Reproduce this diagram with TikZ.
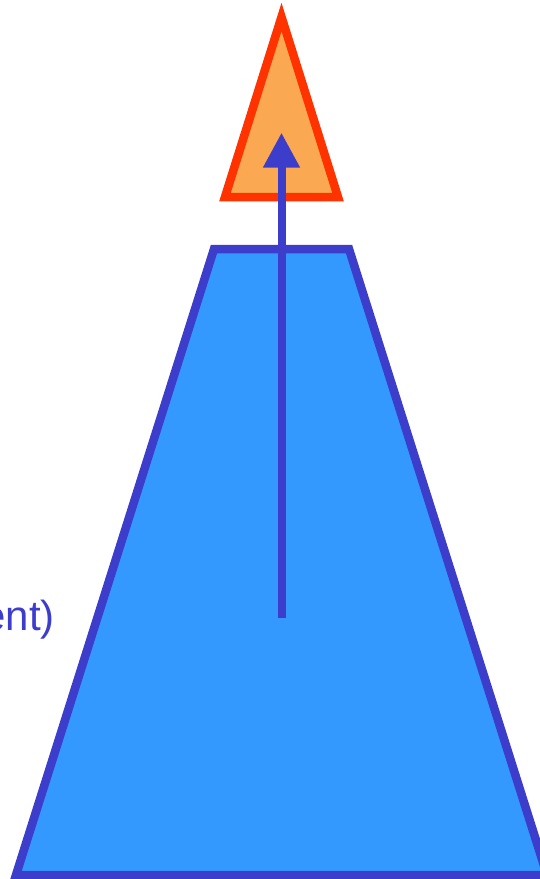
\documentclass[tikz,border=0pt]{standalone}
\usepackage{fontspec}
\setmainfont{Liberation Sans}
\usetikzlibrary{arrows.meta}
\definecolor{bodyblue}{HTML}{3399FF}
\definecolor{edgeblue}{HTML}{3D3DCC}
\definecolor{topfill}{HTML}{FAA851}
\definecolor{topedge}{HTML}{FF3300}
\tikzset{
  trapshape/.style={draw=edgeblue, fill=bodyblue, line width=8.5pt, line join=miter},
  tipshape/.style={draw=topedge, fill=topfill, line width=8.5pt, line join=miter},
  uparrow/.style={draw=edgeblue, line width=8pt, -{Triangle[length=35pt,width=35pt]}},
  labeltext/.style={text=edgeblue, inner sep=0pt, font=\fontsize{42}{50}\selectfont}
}
\begin{document}
\begin{tikzpicture}[x=1pt,y=-1pt]
\useasboundingbox (0,0) rectangle (540,879);
\draw[trapshape] (214,249) -- (349,249) -- (547,875) -- (16,875) -- cycle;
\draw[tipshape] (281.5,17) -- (338,197) -- (225,197) -- cycle;
\coordinate (arrowstart) at (281.5,617.7);
\coordinate (arrowtip) at (281.5,132.7);
\draw[uparrow] (arrowstart) -- (arrowtip);
\node[labeltext, anchor=base east] (lbl) at (55,630) {ent)};
\end{tikzpicture}
\end{document}
